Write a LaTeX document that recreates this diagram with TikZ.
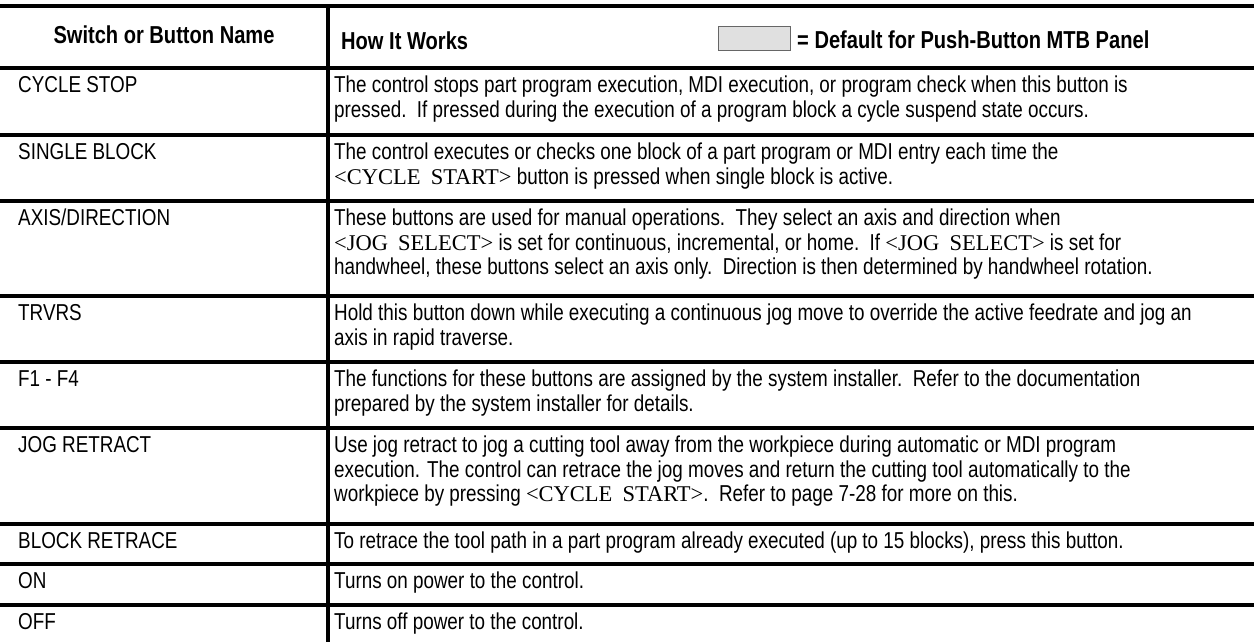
\documentclass[tikz,border=0pt]{standalone}
\usepackage{fontspec}
\setmainfont{Liberation Sans}[FakeStretch=0.82]
\newfontfamily\serfont{Liberation Serif}
\newcommand{\btnname}[1]{{\serfont\fontsize{22.5}{23.5}\selectfont <#1>}}
\tikzset{
  rule/.style={line width=3.2pt},
  cell/.style={anchor=north west, inner sep=0pt, align=left, font=\fontsize{23}{23.5}\selectfont},
  headtext/.style={inner sep=0pt, font=\fontsize{24.5}{26}\selectfont\bfseries},
  defaultbox/.style={draw=black!60, fill=black!12, line width=0.8pt}
}
\begin{document}
\begin{tikzpicture}[x=1pt,y=-1pt]
\useasboundingbox (0,0) rectangle (1254,642);
% rules
\foreach \yy in {6,68,135,201,296,362,428,524,564,605}
  \draw[rule] (0,\yy) -- (1254,\yy);
\draw[rule] (328,6) -- (328,642);
% header
\node[headtext] (h1) at (164,35) {Switch or Button Name};
\node[headtext, anchor=west] (h2) at (341,41) {How It Works};
\node[defaultbox, minimum width=72pt, minimum height=24pt, inner sep=0pt] (gbox) at (754,38) {};
\node[headtext, anchor=west] (h3) at (797,40) {= Default for Push-Button MTB Panel};
% first column
\newcommand{\rowlabel}[3]{\node[cell] (#1) at (18,#2+8) {\strut #3};}
\rowlabel{n1}{68}{CYCLE STOP}
\rowlabel{n2}{135}{SINGLE BLOCK}
\rowlabel{n3}{201}{AXIS/DIRECTION}
\rowlabel{n4}{296}{TRVRS}
\rowlabel{n5}{362}{F1 - F4}
\rowlabel{n6}{428}{JOG RETRACT}
\rowlabel{n7}{524}{BLOCK RETRACE}
\rowlabel{n8}{564}{ON}
\rowlabel{n9}{605}{OFF}
% second column
\node[cell] (d1) at (334,68+8) {\strut The control stops part program execution, MDI execution, or program check when this button is\\
pressed.\ \ If pressed during the execution of a program block a cycle suspend state occurs.};
\node[cell] (d2) at (334,135+8) {\strut The control executes or checks one block of a part program or MDI entry each time the\\
\btnname{CYCLE\hspace{0.45em}START} button is pressed when single block is active.};
\node[cell] (d3) at (334,201+8) {\strut These buttons are used for manual operations.\ \ They select an axis and direction when\\
\btnname{JOG\hspace{0.45em}SELECT} is set for continuous, incremental, or home.\ \ If \btnname{JOG\hspace{0.45em}SELECT} is set for\\
handwheel, these buttons select an axis only.\ \ Direction is then determined by handwheel rotation.};
\node[cell] (d4) at (334,296+8) {\strut Hold this button down while executing a continuous jog move to override the active feedrate and jog an\\
axis in rapid traverse.};
\node[cell] (d5) at (334,362+8) {\strut The functions for these buttons are assigned by the system installer.\ \ Refer to the documentation\\
prepared by the system installer for details.};
\node[cell] (d6) at (334,428+8) {\strut Use jog retract to jog a cutting tool away from the workpiece during automatic or MDI program\\
execution. The control can retrace the jog moves and return the cutting tool automatically to the\\
workpiece by pressing \btnname{CYCLE\hspace{0.45em}START}.\ \ Refer to page 7-28 for more on this.};
\node[cell] (d7) at (334,524+8) {\strut To retrace the tool path in a part program already executed (up to 15 blocks), press this button.};
\node[cell] (d8) at (334,564+8) {\strut Turns on power to the control.};
\node[cell] (d9) at (334,605+8) {\strut Turns off power to the control.};
\end{tikzpicture}
\end{document}
